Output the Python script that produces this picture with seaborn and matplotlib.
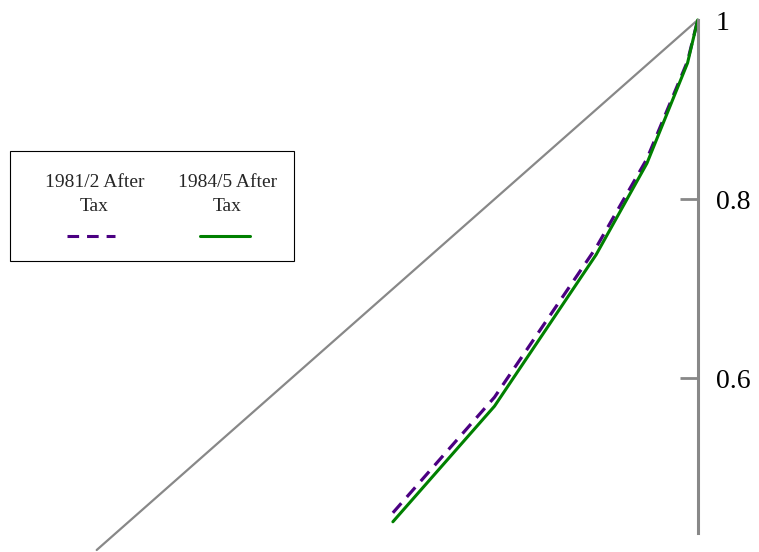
import matplotlib
matplotlib.use("Agg")
import matplotlib.pyplot as plt
import seaborn as sns
import pandas as pd
from matplotlib.lines import Line2D
from matplotlib.patches import Rectangle

# Data (Lorenz curves, cumulative population share vs cumulative income share)
pop_share = [0.70, 0.80, 0.90, 0.95, 0.99, 1.00]
after_tax_1981 = [0.450, 0.579, 0.746, 0.845, 0.954, 1.00]
after_tax_1984 = [0.440, 0.569, 0.738, 0.840, 0.952, 1.00]
equality = [0.4085, 1.00]
series_names = ["1981/2 After\nTax", "1984/5 After\nTax"]
tick_values = [0.6, 0.8, 1.0]
tick_labels = ["0.6", "0.8", "1"]

sns.set_style("white")
plt.rcParams["font.family"] = ["Liberation Serif", "DejaVu Serif"]

W, H = 759, 552
fig = plt.figure(figsize=(W / 100, H / 100), dpi=100)
ax = fig.add_axes([96.7 / W, 2 / H, 601 / W, 530 / H])
ax.set_xlim(0.4085, 1.0)
ax.set_ylim(0.4085, 1.0)
ax.patch.set_alpha(0)

gray = "#888888"
purple = "#4B0082"
green = "#008000"

df_eq = pd.DataFrame({"x": equality, "y": equality})
sns.lineplot(data=df_eq, x="x", y="y", ax=ax, color=gray, linewidth=1.6, clip_on=False)

df81 = pd.DataFrame({"x": pop_share, "y": after_tax_1981})
df84 = pd.DataFrame({"x": pop_share, "y": after_tax_1984})
sns.lineplot(data=df81, x="x", y="y", ax=ax, color=purple, linewidth=2.3, clip_on=False)
ax.lines[-1].set_dashes([4.0, 2.6])
sns.lineplot(data=df84, x="x", y="y", ax=ax, color=green, linewidth=2.2, clip_on=False)

for s in ["left", "top", "bottom"]:
    ax.spines[s].set_visible(False)
ax.spines["right"].set_visible(True)
ax.spines["right"].set_color(gray)
ax.spines["right"].set_linewidth(2.2)
ax.spines["right"].set_bounds(0.427, 1.0)
ax.set_xticks([])
ax.yaxis.tick_right()
ax.set_yticks(tick_values)
ax.set_yticklabels(tick_labels)
ax.tick_params(axis="y", direction="in", length=13, width=2.0, color=gray,
               labelsize=20, pad=13, labelcolor="black")
ax.yaxis.get_major_ticks()[2].tick2line.set_visible(False)
ax.set_xlabel("")
ax.set_ylabel("")
ax.grid(False)

# Manual legend (text above line samples)
def fx(px):
    return px / W

def fy(py):
    return 1 - py / H

box = Rectangle((fx(10), fy(261)), (294 - 10) / W, (261 - 151.5) / H,
                transform=fig.transFigure, fill=False, edgecolor="black", linewidth=0.8)
fig.patches.append(box)
fig.text(fx(94.5), fy(194.5), series_names[0], ha="center", va="center",
         fontsize=14, linespacing=1.5)
fig.text(fx(227.5), fy(194.5), series_names[1], ha="center", va="center",
         fontsize=14, linespacing=1.5)
leg1 = Line2D([fx(66.7), fx(115)], [fy(235.7), fy(235.7)], transform=fig.transFigure,
              color=purple, linewidth=2.2, dashes=[3.8, 2.6])
leg2 = Line2D([fx(200), fx(250)], [fy(235.7), fy(235.7)], transform=fig.transFigure,
              color=green, linewidth=2.2)
fig.lines.extend([leg1, leg2])

fig.savefig("out.png", dpi=100)
